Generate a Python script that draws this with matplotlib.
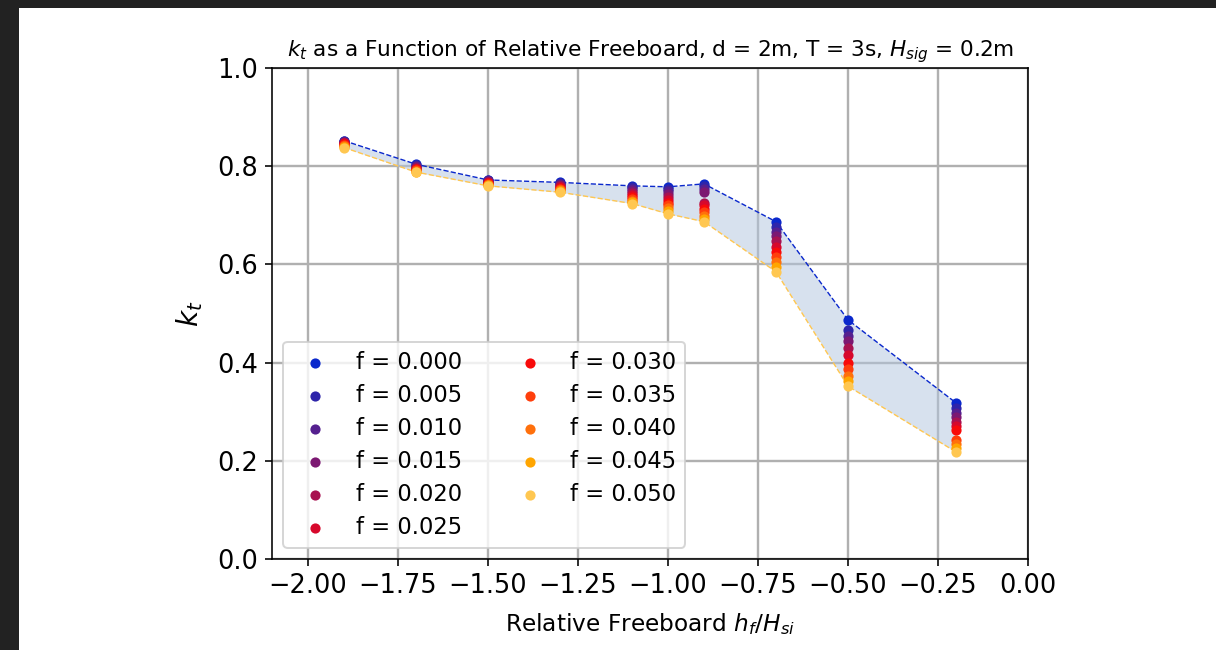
import matplotlib
matplotlib.use("Agg")
import matplotlib.pyplot as plt
from matplotlib.patches import Rectangle

plt.rcParams['font.family'] = ['DejaVu Sans']
plt.rcParams['axes.unicode_minus'] = True
plt.rcParams['mathtext.fontset'] = 'dejavusans'

# ---- data ----
freeboard = [-1.9, -1.7, -1.5, -1.3, -1.1, -1.0, -0.9, -0.7, -0.5, -0.2]
f_values = [0.000, 0.005, 0.010, 0.015, 0.020, 0.025, 0.030, 0.035, 0.040, 0.045, 0.050]

kt_f000 = [0.852, 0.804, 0.772, 0.767, 0.760, 0.758, 0.764, 0.687, 0.487, 0.318]
kt_f005 = [0.851, 0.802, 0.771, 0.765, 0.757, 0.754, 0.759, 0.677, 0.466, 0.308]
kt_f010 = [0.850, 0.800, 0.770, 0.763, 0.754, 0.749, 0.753, 0.667, 0.455, 0.298]
kt_f015 = [0.849, 0.798, 0.769, 0.761, 0.750, 0.744, 0.748, 0.657, 0.444, 0.289]
kt_f020 = [0.848, 0.797, 0.768, 0.759, 0.746, 0.738, 0.726, 0.647, 0.430, 0.279]
kt_f025 = [0.847, 0.795, 0.766, 0.757, 0.742, 0.732, 0.720, 0.636, 0.415, 0.270]
kt_f030 = [0.845, 0.794, 0.765, 0.755, 0.738, 0.726, 0.713, 0.626, 0.400, 0.262]
kt_f035 = [0.843, 0.792, 0.764, 0.753, 0.734, 0.720, 0.706, 0.616, 0.386, 0.242]
kt_f040 = [0.841, 0.791, 0.762, 0.751, 0.730, 0.714, 0.699, 0.605, 0.373, 0.234]
kt_f045 = [0.839, 0.789, 0.761, 0.749, 0.727, 0.708, 0.693, 0.595, 0.362, 0.226]
kt_f050 = [0.838, 0.788, 0.760, 0.747, 0.724, 0.703, 0.687, 0.585, 0.352, 0.218]

kt_series = [kt_f000, kt_f005, kt_f010, kt_f015, kt_f020, kt_f025,
             kt_f030, kt_f035, kt_f040, kt_f045, kt_f050]

colors = ['#0a28cc', '#2e25aa', '#55208f', '#7c1872', '#a81250', '#d7082c',
          '#f80a0a', '#ff3f0c', '#ff700c', '#ffa500', '#ffc751']

xticks = [-2.0, -1.75, -1.5, -1.25, -1.0, -0.75, -0.5, -0.25, 0.0]
yticks = [0.0, 0.2, 0.4, 0.6, 0.8, 1.0]

title = r"$k_t$ as a Function of Relative Freeboard, d = 2m, T = 3s, $H_{sig}$ = 0.2m"
xlabel = r"Relative Freeboard $h_f/H_{si}$"
ylabel = r"$k_t$"

# ---- figure ----
W, H = 1216, 650
DPI = 144
fig = plt.figure(figsize=(W / DPI, H / DPI), dpi=DPI)

# dark screenshot border
fig.patches.append(Rectangle((0, 0), 18 / W, 1, transform=fig.transFigure,
                             color='#222222', zorder=0))
fig.patches.append(Rectangle((0, 1 - 7 / H), 1, 7 / H, transform=fig.transFigure,
                             color='#222222', zorder=0))

ax = fig.add_axes([272 / W, 1 - 559 / H, (1028 - 272) / W, (559 - 68) / H])

ax.fill_between(freeboard, kt_f000, kt_f050, color='lightsteelblue', alpha=0.5,
                linewidth=0, zorder=1)
ax.plot(freeboard, kt_f000, '--', color=colors[0], linewidth=0.7, zorder=2)
ax.plot(freeboard, kt_f050, '--', color=colors[-1], linewidth=0.7, zorder=2)

for fv, kt, c in zip(f_values, kt_series, colors):
    ax.scatter(freeboard, kt, s=26, color=c, label=f"f = {fv:.3f}",
               linewidths=0, zorder=3)

ax.set_xlim(-2.1, 0.0)
ax.set_ylim(0.0, 1.0)
ax.set_xticks(xticks)
ax.set_yticks(yticks)
ax.tick_params(labelsize=12.8)
ax.grid(True, color='#b0b0b0', linewidth=1.2, zorder=0)
ax.set_axisbelow(True)

ax.set_title(title, fontsize=10.8)
ax.set_xlabel(xlabel, fontsize=11.6, labelpad=6)
ax.set_ylabel(ylabel, fontsize=14, labelpad=6)

ax.legend(loc='lower left', ncol=2, fontsize=11.3, labelspacing=0.44)

fig.savefig('out.png', dpi=DPI)
